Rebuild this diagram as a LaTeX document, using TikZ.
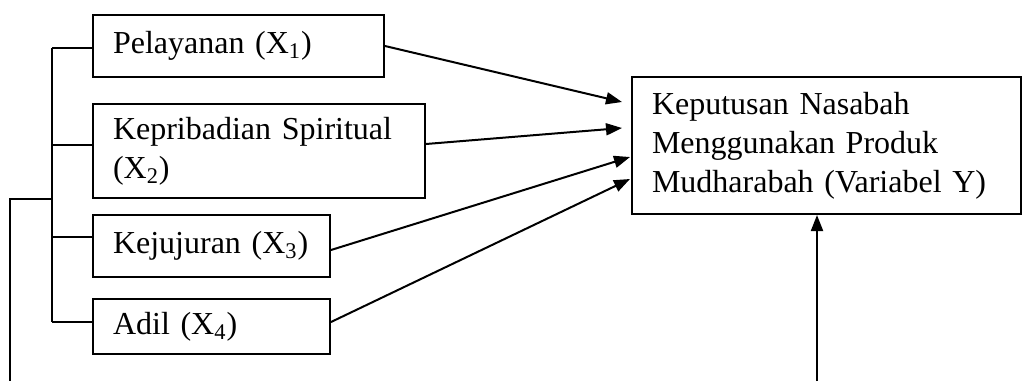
\documentclass[tikz,border=0pt]{standalone}
\usepackage{fontspec}
\setmainfont{Liberation Serif}
\usetikzlibrary{arrows.meta,calc}
\begin{document}
\begin{tikzpicture}[x=0.5pt,y=-0.5pt,
  box/.style={draw, line width=1pt, inner xsep=10pt, inner ysep=0pt, align=left,
    font=\fontsize{16}{19.5}\selectfont},
  ln/.style={line width=1pt},
  arr/.style={line width=1pt, -{Triangle[length=8pt,width=6pt]}}]
\useasboundingbox (0,0) rectangle (1022,381);
% boxes
\node[box, text width=125.5pt, minimum height=31pt] (p1) at (238.5,46) {Pelayanan (X\textsubscript{1})};
\node[box, text width=146pt, minimum height=47pt] (p2) at (259,151) {Kepribadian Spiritual\\(X\textsubscript{2})};
\node[box, text width=98.5pt, minimum height=31pt] (p3) at (211.5,246) {Kejujuran (X\textsubscript{3})};
\node[box, text width=98.5pt, minimum height=27.5pt] (p4) at (211.5,326.5) {Adil (X\textsubscript{4})};
\node[box, text width=174.5pt, minimum height=68.5pt] (y) at (826.5,145.5) {Keputusan Nasabah\\Menggunakan Produk\\Mudharabah (Variabel Y)};
% bracket
\coordinate (b1) at (52,48);
\coordinate (b2) at (52,145);
\coordinate (b3) at (52,237);
\coordinate (b4) at (52,322);
\coordinate (b0) at (52,199);
\coordinate (l0) at (10,199);
\coordinate (l1) at (10,381);
\draw[ln] (b1) -- (b4);
\draw[ln] (b1) -- (p1.west |- b1);
\draw[ln] (b2) -- (p2.west |- b2);
\draw[ln] (b3) -- (p3.west |- b3);
\draw[ln] (b4) -- (p4.west |- b4);
\draw[ln] (b0) -- (l0) -- (l1);
% arrows to Y
\draw[arr] (p1.east) -- ($(y.north west)+(-9,26)$);
\draw[arr] ($(p2.east)+(0,-7)$) -- ($(y.north west)+(-9,52)$);
\draw[arr] ($(p3.east)+(0,4)$) -- ($(y.north west)+(-1,81)$);
\draw[arr] ($(p4.east)+(0,-4.5)$) -- ($(y.north west)+(-1,103)$);
% bottom arrow
\coordinate (yb) at (817,381);
\draw[arr] (yb) -- (yb |- y.south);
\end{tikzpicture}
\end{document}
